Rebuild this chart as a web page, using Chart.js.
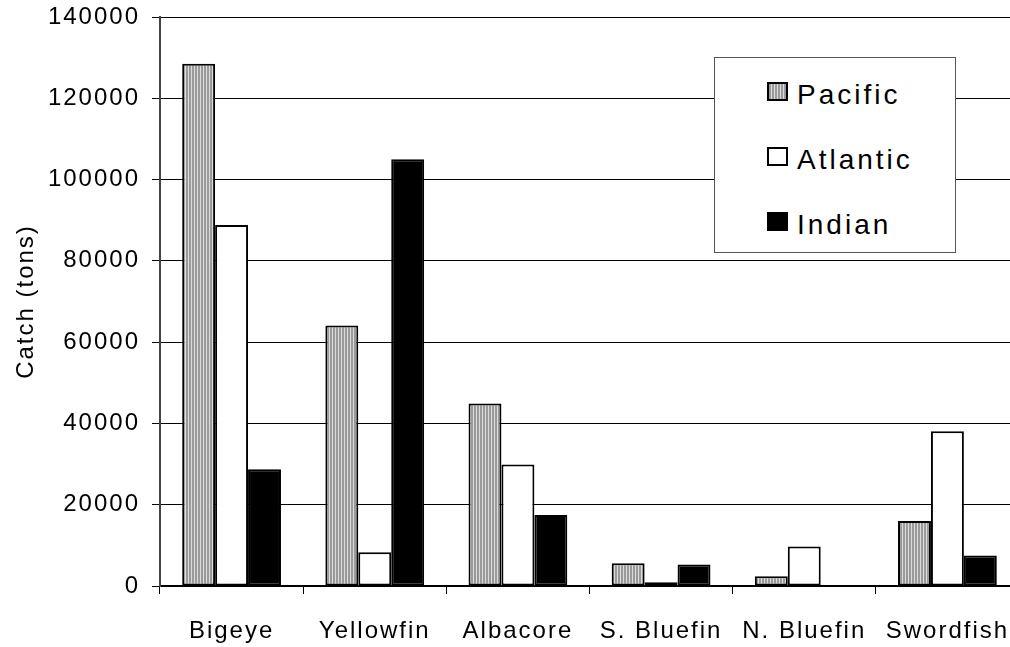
<!DOCTYPE html>
<html>
<head>
<meta charset="utf-8">
<script src="https://cdn.jsdelivr.net/npm/chart.js@4"></script>
<style>
  body { margin: 0; overflow: hidden; background: #fff; }
  #wrap { position: relative; width: 1024px; height: 647px; }
  canvas { display: block; }
  #legend { position: absolute; left: 714px; top: 57px; width: 242px; height: 196px;
            border: 1px solid #555; background: #fff; box-sizing: border-box;
            font-family: "Liberation Sans", Arial, sans-serif; }
  .sw { position: absolute; left: 52px; width: 21px; height: 19px; border: 2px solid #000; box-sizing: border-box; }
  .lt { position: absolute; left: 82px; font-size: 28px; line-height: 28px; letter-spacing: 3px; color: #000; white-space: nowrap; }
</style>
</head>
<body>
<div id="wrap">
  <canvas id="chart" width="1024" height="647" style="width:1024px;height:647px"></canvas>
  <div id="legend"></div>
</div>
<script>
// chart data
const categories = ['Bigeye', 'Yellowfin', 'Albacore', 'S. Bluefin', 'N. Bluefin', 'Swordfish'];
const pacific = [128500, 64100, 44900, 5600, 2400, 16000];
const atlantic = [88800, 8300, 29900, 900, 9700, 38100];
const indian = [28700, 105000, 17500, 5300, 0, 7500];
const seriesNames = ['Pacific', 'Atlantic', 'Indian'];
const yTicks = [0, 20000, 40000, 60000, 80000, 100000, 120000, 140000];

const STRIPE_DARK = '#9a9a9a';
const STRIPE_LIGHT = '#dcdcdc';

// vertical stripe pattern for the Pacific bars
function stripePattern(ctx) {
    const c = document.createElement('canvas');
    c.width = 3; c.height = 4;
    const p = c.getContext('2d');
    p.fillStyle = STRIPE_LIGHT;
    p.fillRect(0, 0, 3, 4);
    p.fillStyle = STRIPE_DARK;
    p.fillRect(0, 0, 2, 4);
    return ctx.createPattern(c, 'repeat');
}

const canvas = document.getElementById('chart');
const ctx = canvas.getContext('2d');
const fills = [stripePattern(ctx), '#ffffff', '#000000'];
const swatchCss = [
    `repeating-linear-gradient(to right, ${STRIPE_DARK} 0 2px, ${STRIPE_LIGHT} 2px 3px)`,
    '#ffffff', '#000000'
];

// canvas text in the picture is widely spaced
const spacing = {
    id: 'spacing',
    beforeLayout(chart) { chart.ctx.letterSpacing = '2px'; },
    beforeDraw(chart) { chart.ctx.letterSpacing = '2px'; }
};

const font = { family: '"Liberation Sans", Arial, sans-serif', size: 24 };

const chart = new Chart(ctx, {
    type: 'bar',
    data: {
        labels: categories,
        datasets: [pacific, atlantic, indian].map((vals, i) => ({
            label: seriesNames[i],
            data: vals,
            backgroundColor: fills[i],
            borderColor: '#000',
            borderWidth: 2,
            borderSkipped: false,
            categoryPercentage: 0.69,
            barPercentage: 1.0,
        })),
    },
    options: {
        responsive: false,
        animation: false,
        devicePixelRatio: 1,
        layout: { padding: { top: 17, right: 5, bottom: 0, left: 0 } },
        plugins: {
            legend: { display: false },
            tooltip: { enabled: false },
        },
        scales: {
            x: {
                offset: true,
                afterFit(scale) {
                    scale.height = 61;
                    scale.paddingLeft = 0;
                    scale.paddingRight = 0;
                },
                grid: { offset: true, drawOnChartArea: false, color: '#000', tickLength: 8, lineWidth: 1 },
                border: { color: '#000', width: 2 },
                ticks: { color: '#000', font: font, padding: 23, maxRotation: 0, autoSkip: false },
            },
            y: {
                min: 0,
                max: 140000,
                afterFit(scale) {
                    scale.width = 160;
                    scale.paddingTop = 0;
                    scale.paddingBottom = 0;
                },
                afterBuildTicks(scale) { scale.ticks = yTicks.map(v => ({ value: v })); },
                grid: { color: '#000', tickLength: 8, lineWidth: 1 },
                border: { color: '#444', width: 2 },
                ticks: { color: '#000', font: font, padding: 12, callback: v => String(v) },
                title: {
                    display: true,
                    text: 'Catch (tons)',
                    color: '#000',
                    font: { family: font.family, size: 24 },
                    padding: { top: 12, bottom: 0 },
                },
            },
        },
    },
    plugins: [spacing],
});

// legend box inside the plot, built from the datasets
const legend = document.getElementById('legend');
chart.data.datasets.forEach((ds, i) => {
    const top = 24 + i * 65;
    const sw = document.createElement('div');
    sw.className = 'sw';
    sw.style.top = top + 'px';
    sw.style.background = swatchCss[i];
    const lt = document.createElement('div');
    lt.className = 'lt';
    lt.style.top = (top - 1) + 'px';
    lt.textContent = ds.label;
    legend.appendChild(sw);
    legend.appendChild(lt);
});
</script>
</body>
</html>
